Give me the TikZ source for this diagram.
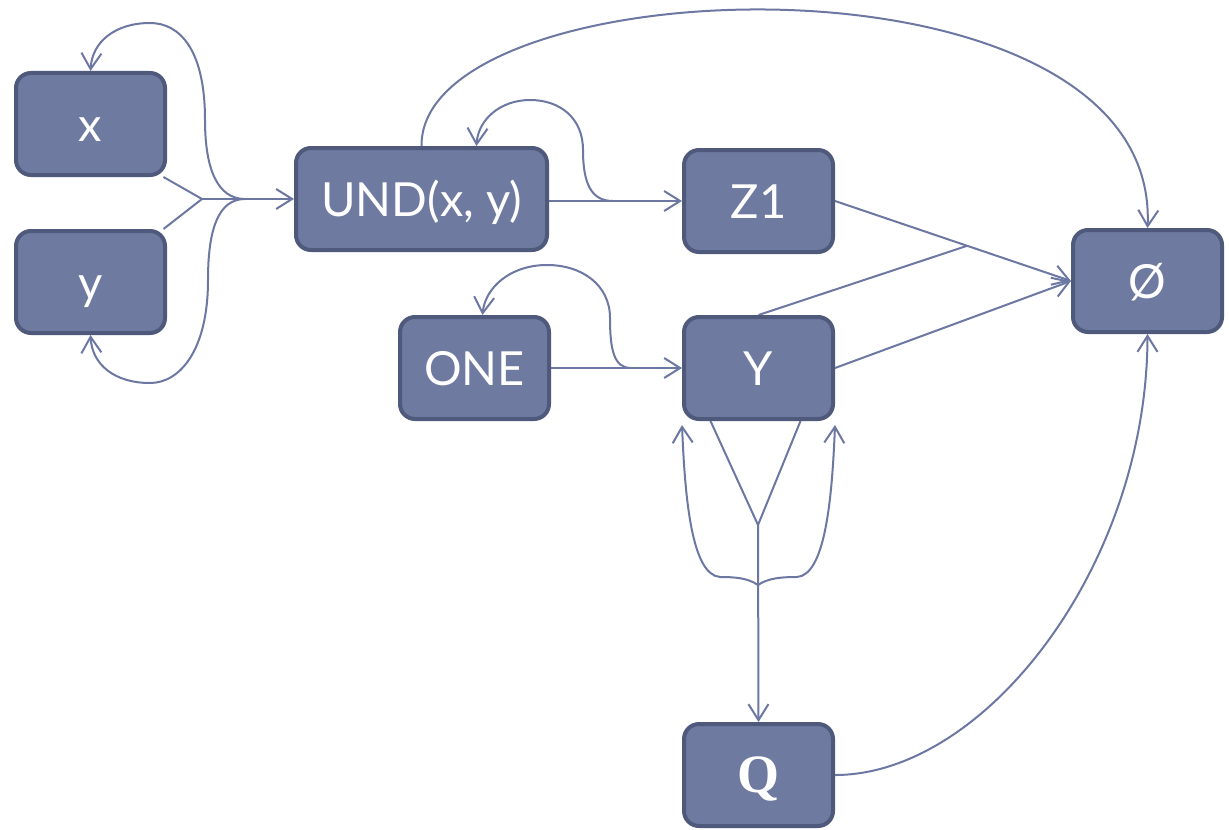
\documentclass[tikz,border=0pt]{standalone}
\usepackage{fontspec}
\setmainfont{Lato}
\newfontfamily\qfont{Liberation Serif}
\usetikzlibrary{arrows.meta,calc,backgrounds}
\definecolor{boxfill}{HTML}{6F7AA0}
\definecolor{boxline}{HTML}{4F597B}
\definecolor{edgecol}{HTML}{6C77A2}
\begin{document}
\begin{tikzpicture}[x=0.5pt,y=-0.5pt,
  box/.style={draw=boxline, line width=2pt, fill=boxfill, rounded corners=7.5pt,
    minimum width=74.5pt, minimum height=51pt, inner sep=0pt, text=white,
    text height=17pt, text depth=0pt, font=\fontsize{23.5pt}{27pt}\selectfont},
  wide/.style={minimum width=125.5pt},
  link/.style={draw=edgecol, line width=1pt},
  arr/.style={link, -{Straight Barb[length=8pt,width=10pt]}}]
\useasboundingbox (0,0) rectangle (1229,829);

% states
\node[box] (nx)    at (90.5,124)  {x};
\node[box] (ny)    at (90.5,282)  {y};
\node[box,wide] (und) at (421.5,199) {UND(x, y)};
\node[box] (z1)    at (758.5,201) {Z1};
\node[box] (empty) at (1147.5,281) {Ø};
\node[box] (one)   at (474.5,368) {ONE};
\node[box] (nY)    at (758.5,368) {Y};
\node[box] (q)     at (758.5,775) {\qfont\bfseries\fontsize{27pt}{30pt}\selectfont Q};

\begin{scope}[on background layer]
  % x, y -> UND(x, y), feeding back to x and y
  \coordinate (j1) at (202,199);
  \coordinate (s1) at (245,199);
  \draw[link] (nx.-36) -- (j1);
  \draw[link] (ny.36) -- (j1);
  \draw[arr] (j1) -- (und.west);
  \draw[arr] (s1) .. controls (218,199) and (205,170) .. (205,120)
                  .. controls (205,50) and (180,23) .. (150,23)
                  .. controls (115,23) and (92,42) .. (nx.north);
  \draw[arr] (s1) .. controls (218,199) and (208,230) .. (208,280)
                  .. controls (208,350) and (180,383) .. (150,383)
                  .. controls (115,383) and (92,365) .. (ny.south);

  % UND(x, y) -> Z1 with self loop
  \coordinate (s2) at (613,201);
  \draw[arr] (und.east |- z1.west) -- (z1.west);
  \draw[arr] (s2) .. controls (592,201) and (583,185) .. (583,150)
                  .. controls (583,118) and (560,100) .. (530,100)
                  .. controls (500,100) and (478,120) .. ($(und.north)+(55,0)$);

  % UND(x, y) -> empty set
  \draw[arr] (und.north) .. controls (420,-35) and (1160,-62) .. (empty.north);

  % Z1, Y -> empty set
  \draw[arr] (z1.east) -- (empty.west);
  \coordinate (j3) at ($(z1.east)!0.56!(empty.west)$);
  \draw[link] (nY.north) -- (j3);
  \draw[arr] (nY.east) -- (empty.west);

  % ONE -> Y with self loop
  \coordinate (s3) at (631,368);
  \draw[arr] (one.east) -- (nY.west);
  \draw[arr] (s3) .. controls (614,368) and (610,350) .. (610,318)
                  .. controls (610,285) and (582,265) .. (547,265)
                  .. controls (510,265) and (485,288) .. ($(one.north)+(8,0)$);

  % Y -> Q, feeding back to Y
  \coordinate (j4) at (758,525);
  \coordinate (s4) at (758,585);
  \draw[link] ($(nY.south)+(-48,0)$) -- (j4);
  \draw[link] ($(nY.south)+(42,0)$) -- (j4);
  \draw[arr] (j4) -- (q.north);
  \draw[arr] (s4) .. controls (748,578) and (735,577) .. (720,577)
                  .. controls (692,575) and (685,500) .. ($(nY.south west)+(0,4)$);
  \draw[arr] (s4) .. controls (768,578) and (782,577) .. (797,577)
                  .. controls (825,575) and (832,500) .. ($(nY.south east)+(0,4)$);

  % Q -> empty set
  \draw[arr] (q.east) .. controls (985,775) and (1147,566) .. (empty.south);
\end{scope}
\end{tikzpicture}
\end{document}
